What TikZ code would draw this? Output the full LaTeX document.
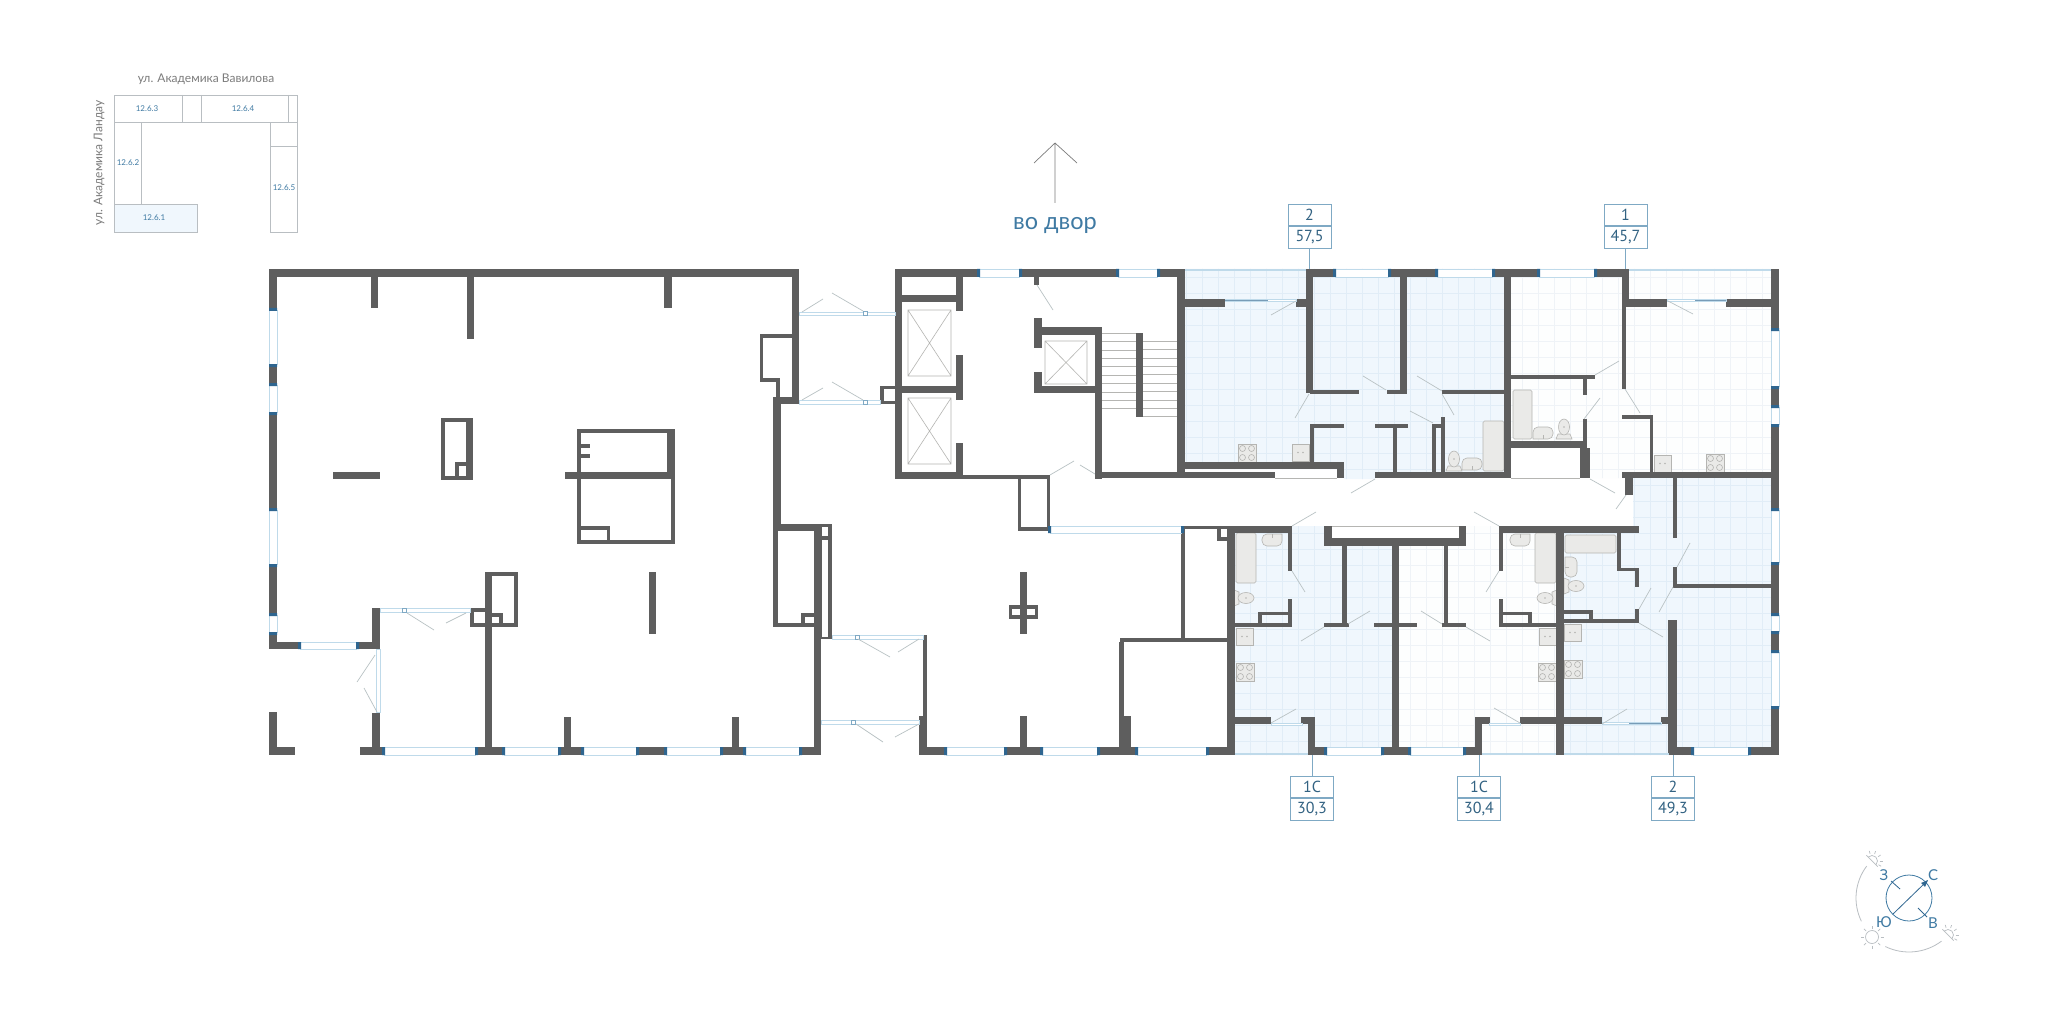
\documentclass[tikz,border=0pt]{standalone}
\usepackage{fontspec}
\setmainfont{Lato}
\newfontfamily\tagfont{PT Sans}
\usetikzlibrary{positioning}
\definecolor{wallc}{HTML}{5E5E5E}
\definecolor{jambc}{HTML}{2F6690}
\definecolor{glassc}{HTML}{BFDAEA}
\definecolor{bluefill}{HTML}{F0F7FD}
\definecolor{bluegrid}{HTML}{E1EDF7}
\definecolor{palefill}{HTML}{FDFEFE}
\definecolor{palegrid}{HTML}{EFF3F7}
\definecolor{doorc}{HTML}{B9C2C4}
\definecolor{fixc}{HTML}{EAEAE8}
\definecolor{fixline}{HTML}{B5B5B2}
\definecolor{inkc}{HTML}{3F7AA3}
\definecolor{tagc}{HTML}{7FA9C4}
\definecolor{streetc}{HTML}{7C7C7C}
\definecolor{keyc}{HTML}{B9BEC2}
\tikzset{
	door/.style={doorc, line width=0.7pt},
	thinline/.style={fixline, line width=0.6pt},
	tagbox/.style={draw=tagc, line width=0.6pt, minimum width=43pt, minimum height=21.5pt, inner sep=0pt, text=inkc!80!black, font=\tagfont\fontsize{16}{16}\selectfont},
	keylabel/.style={text=inkc, font=\fontsize{8}{9}\selectfont},
	streetlabel/.style={text=streetc, font=\fontsize{12}{13}\selectfont},
	sidelabel/.style={text=inkc, font=\fontsize{15}{15}\selectfont}
}
% one room with its tile grid
\newcommand{\flatfill}[3]{
	\begin{scope}
		\clip #3;
		\fill[#1] (1170,260) rectangle (1790,760);
		\foreach \i in {1170,1186,...,1790}
			\draw[#2, line width=0.5pt] (\i,260) -- (\i,760);
		\foreach \i in {261,277,...,760}
			\draw[#2, line width=0.5pt] (1170,\i) -- (1790,\i);
	\end{scope}
}
\newcommand{\stoveat}[2]{
	\draw[thinline, fill=fixc] (#1,#2) rectangle ++(18,18);
	\foreach \i in {4.5,13.5} \foreach \j in {4.5,13.5}
		\draw[fixline, line width=0.6pt] (#1+\i,#2+\j) circle (3);
}
\newcommand{\sinkat}[2]{
	\draw[thinline, fill=fixc] (#1,#2) rectangle ++(17,17);
	\fill[fixline] (#1+6,#2+8.5) circle (0.8) (#1+11,#2+8.5) circle (0.8);
}
\newcommand{\toiletat}[3]{
	\begin{scope}[shift={(#1,#2)}, rotate=#3]
		\draw[thinline, fill=fixc] (-8,10) -- (-6,5) -- (6,5) -- (8,10) -- cycle;
		\draw[thinline, fill=fixc] (0,-2) ellipse (5.5 and 8);
		\fill[fixline] (0,-2) circle (0.9);
	\end{scope}
}
\newcommand{\washat}[3]{
	\begin{scope}[shift={(#1,#2)}, rotate=#3]
		\draw[thinline, fill=fixc, rounded corners=5pt] (-10,6) -- (-10,-6) -- (10,-6) -- (10,6) [sharp corners] -- cycle;
		\draw[fixline, line width=0.5pt] (0,2) -- (0,6);
	\end{scope}
}
\newcommand{\halfsun}[3]{
	\begin{scope}[shift={(#1,#2)}, rotate=#3]
		\draw[keyc, line width=0.7pt] (-8,0) -- (8,0);
		\draw[keyc, line width=0.7pt] (-5.5,0) arc[start angle=180, end angle=360, radius=5.5];
		\foreach \a in {-150,-115,-80,-45,-15}
			\draw[keyc, line width=0.7pt] (\a:7.5) -- (\a:10.5);
	\end{scope}
}

\begin{document}
\begin{tikzpicture}[x=1pt, y=-1pt]
	\useasboundingbox (0,0) rectangle (2048,1024);
	\fill[white] (0,0) rectangle (2048,1024);

	% rooms
	\flatfill{bluefill}{bluegrid}{(1185,269) -- (1504,269) -- (1504,472) -- (1375,472) -- (1375,479) -- (1344,479) -- (1344,469) -- (1185,469) -- cycle}
	\flatfill{palefill}{palegrid}{(1511,269) -- (1771,269) -- (1771,472) -- (1622,472) -- (1622,478) -- (1590,478) -- (1590,448) -- (1511,448) -- cycle}
	\flatfill{bluefill}{bluegrid}{(1235,533) -- (1292,533) -- (1292,526) -- (1324,526) -- (1324,546) -- (1392,546) -- (1392,755) -- (1235,755) -- cycle}
	\flatfill{palefill}{palegrid}{(1399,546) -- (1466,546) -- (1466,526) -- (1499,526) -- (1499,533) -- (1556,533) -- (1556,755) -- (1399,755) -- cycle}
	\flatfill{bluefill}{bluegrid}{(1633,478) -- (1771,478) -- (1771,755) -- (1564,755) -- (1564,533) -- (1633,533) -- cycle}

	% baths and kitchens
	\foreach \xa/\ya/\xb/\yb in {1513/390/1532/439, 1483/421/1504/471, 1236/533/1256/583, 1535/533/1556/583, 1565/535/1616/553}
		\draw[thinline, fill=fixc, rounded corners=1.5pt] (\xa,\ya) rectangle (\xb,\yb);
	\foreach \xa/\ya in {1238/444, 1706/454, 1236/663, 1538/663, 1564/660}{
		\stoveat{\xa}{\ya}
	}
	\foreach \xa/\ya in {1292/444, 1654/455, 1236/628, 1539/628, 1564/624}{
		\sinkat{\xa}{\ya}
	}
	\toiletat{1564}{429}{0}
	\toiletat{1454}{461}{0}
	\toiletat{1244}{598}{-90}
	\toiletat{1547}{598}{90}
	\toiletat{1574}{586}{-90}
	\washat{1543}{433}{0}
	\washat{1472}{464}{0}
	\washat{1272}{540}{180}
	\washat{1520}{540}{180}
	\washat{1571}{567}{-90}

	% walls
	\foreach \xa/\ya/\xb/\yb in {
		269/269/799/277, 269/269/277/649, 371/277/378/308, 467/277/474/339, 664/277/672/308,
		792/269/799/404, 760/334/792/338, 760/334/763/382, 760/378/780/382, 776/378/780/397, 774/397/799/404,
		773/397/781/527, 774/524/832/531, 773/527/778/627, 774/623/816/627, 801/613/816/617, 801/613/805/623,
		814/531/821/755, 821/524/832/639,
		441/418/445/480, 441/418/473/422, 466/418/473/480, 441/476/473/480, 455/462/466/466, 455/462/459/477,
		333/472/380/479,
		577/429/675/433, 577/429/581/544, 667/429/675/472, 565/472/675/479, 671/479/675/544, 577/540/675/544,
		581/526/610/530, 607/526/610/540, 581/444/590/448, 581/454/590/458,
		649/572/656/634,
		485/572/492/755, 485/572/518/576, 514/572/518/627, 470/623/518/627, 470/608/485/612, 470/608/474/627,
		492/613/503/617, 499/613/503/623,
		269/642/380/649, 372/608/380/649, 372/713/380/755, 269/712/277/755,
		269/747/295/755, 360/747/384/755, 476/747/504/755, 559/747/583/755, 637/747/666/755, 721/747/745/755, 800/747/821/755,
		564/717/571/747, 732/717/739/747,
		895/269/1185/277, 895/269/902/479, 895/295/963/302, 956/277/963/311, 956/355/963/400, 895/386/963/393,
		956/443/963/479, 895/472/963/479, 963/475/1050/479,
		880/386/895/389, 880/386/884/404, 880/401/895/404,
		1018/479/1021/531, 1047/479/1050/531, 1018/527/1050/531,
		1095/327/1102/479, 1034/327/1102/335, 1034/318/1042/348, 1034/372/1042/393, 1034/386/1102/393,
		1034/277/1039/285, 1136/333/1143/417, 1095/472/1275/478, 1177/269/1185/478,
		923/635/927/717, 919/716/927/755, 919/747/946/755, 1005/747/1042/755, 1098/747/1137/755, 1207/747/1235/755,
		1020/572/1027/634, 1009/605/1038/619, 1020/716/1027/747,
		1120/638/1227/642, 1119/642/1124/716, 1119/716/1131/755, 1181/527/1185/638, 1181/526/1230/529,
		1217/529/1221/541, 1217/537/1227/541,
		1185/299/1225/307, 1296/299/1307/307, 1306/269/1313/393, 1306/269/1335/277, 1389/269/1437/277, 1493/269/1539/277, 1595/269/1629/277,
		1400/269/1407/393, 1310/390/1359/394, 1387/390/1407/394, 1442/390/1504/394,
		1504/269/1511/478, 1511/375/1595/379, 1583/379/1587/395, 1583/419/1587/441, 1511/441/1587/448, 1580/448/1590/478,
		1622/269/1626/389, 1622/269/1629/307, 1622/299/1667/307, 1726/299/1771/307,
		1771/269/1779/755,
		1310/424/1344/428, 1310/424/1314/467, 1185/462/1344/469, 1337/462/1344/478,
		1375/472/1511/478, 1375/424/1408/428, 1393/428/1397/472, 1432/424/1436/472, 1432/424/1445/428, 1441/417/1445/472,
		1622/472/1779/478, 1650/415/1653/472, 1622/415/1653/419, 1625/478/1633/495, 1673/478/1677/538,
		1227/526/1235/755, 1227/526/1292/533, 1288/526/1292/571, 1288/599/1292/627, 1258/612/1292/615, 1258/612/1262/625, 1235/623/1292/627,
		1235/717/1271/724, 1301/717/1315/724, 1308/717/1315/755, 1308/747/1326/755, 1382/747/1410/755, 1464/747/1482/755,
		1392/538/1399/755, 1324/538/1466/546, 1324/526/1332/546, 1459/526/1466/546,
		1342/546/1347/627, 1324/623/1349/627, 1374/623/1417/627, 1444/546/1448/627, 1442/623/1466/627,
		1499/526/1639/533, 1499/526/1503/571, 1499/599/1503/627, 1499/623/1556/627, 1499/612/1532/615, 1528/612/1532/625,
		1556/526/1564/755, 1617/533/1621/571, 1617/568/1639/571, 1635/568/1639/587, 1635/609/1639/623, 1564/619/1639/623,
		1564/610/1593/614, 1589/610/1593/620,
		1673/567/1677/588, 1673/584/1773/588, 1668/620/1677/755,
		1564/717/1602/724, 1661/717/1669/724, 1520/717/1556/724, 1475/717/1490/724, 1475/717/1482/755,
		1669/747/1693/755, 1749/747/1779/755}
		\fill[wallc] (\xa,\ya) rectangle (\xb,\yb);
	\foreach \xa/\ya/\xb/\yb in {822/527/828/536, 822/540/828/637, 1012/609/1020/615, 1027/609/1035/615}
		\fill[white] (\xa,\ya) rectangle (\xb,\yb);

	% windows
	\foreach \xa/\ya/\xb/\yb in {
		300/642/357/649, 384/747/476/755, 504/747/559/755, 583/747/637/755, 666/747/721/755, 745/747/800/755,
		979/269/1020/277, 1118/269/1158/277, 1050/526/1182/533, 946/747/1005/755, 1042/747/1098/755, 1137/747/1207/755,
		1335/269/1389/277, 1437/269/1493/277, 1539/269/1595/277, 1326/747/1382/755, 1410/747/1464/755, 1693/747/1749/755}{
		\fill[white] (\xa,\ya) rectangle (\xb,\yb);
		\draw[glassc, line width=0.9pt] (\xa,\ya) -- (\xb,\ya) (\xa,\yb) -- (\xb,\yb);
		\fill[jambc] (\xa-2,\ya) rectangle (\xa+1,\yb) (\xb-1,\ya) rectangle (\xb+2,\yb);
	}
	\foreach \xa/\ya/\xb/\yb in {
		269/310/277/365, 269/385/277/413, 269/510/277/565, 269/615/277/633,
		1771/330/1779/387, 1771/407/1779/425, 1771/510/1779/563, 1771/615/1779/632, 1771/652/1779/707}{
		\fill[white] (\xa,\ya) rectangle (\xb,\yb);
		\draw[glassc, line width=0.9pt] (\xa,\ya) -- (\xa,\yb) (\xb,\ya) -- (\xb,\yb);
		\fill[jambc] (\xa,\ya-2) rectangle (\xb,\ya+1) (\xa,\yb-1) rectangle (\xb,\yb+2);
	}
	% balcony glass
	\foreach \xa/\ya/\xb/\yb in {1185/269/1306/271, 1629/269/1771/271, 1235/753/1308/755, 1482/753/1556/755, 1564/753/1669/755}
		\fill[glassc] (\xa,\ya) rectangle (\xb,\yb);
	\foreach \xa/\ya/\xb/\yb in {
		380/608/470/612, 376/649/380/712, 799/312/895/315, 799/400/880/404, 832/635/923/639, 821/720/919/724,
		1225/299/1296/301, 1667/299/1726/301, 1271/723/1302/725, 1489/723/1520/725, 1602/722/1661/724}
		\draw[glassc, fill=white, line width=0.7pt] (\xa,\ya) rectangle (\xb,\yb);
	\foreach \xa/\ya/\xb/\yb in {1225/300/1268/300, 1695/300/1726/300, 1629/723/1661/723}
		\draw[jambc!65, line width=0.7pt] (\xa,\ya) -- (\xb,\yb);
	\foreach \xa/\ya in {402/608, 863/311.5, 863/400, 855/635, 851/720}
		\draw[tagc, fill=white, line width=0.5pt] (\xa,\ya) rectangle ++(4,4);

	% door leaves
	\foreach \xa/\ya/\xb/\yb in {
		407/613/434/630, 466/613/446/623, 375/655/357/682, 377/712/364/688,
		802/312/823/299, 863/311/832/293, 802/400/823/388, 863/400/832/382,
		1037/285/1053/310, 1050/475/1074/461, 1095/474/1080/465,
		858/639/890/657, 919/639/898/652, 856/724/883/742, 919/724/895/737,
		1296/301/1271/315, 1309/394/1295/418, 1386/390/1363/376, 1442/391/1417/376, 1442/394/1454/415, 1433/423/1410/411,
		1595/375/1619/361, 1584/419/1600/398, 1625/389/1640/413, 1668/301/1693/314,
		1375/479/1351/493, 1590/479/1615/493, 1626/495/1616/509,
		1292/526/1316/512, 1292/571/1305/592, 1348/624/1370/611, 1324/627/1301/641,
		1442/624/1421/611, 1466/627/1490/641, 1499/526/1474/512, 1499/571/1486/592,
		1639/609/1651/588, 1639/623/1663/637, 1677/567/1690/543, 1673/587/1659/612,
		1602/724/1627/709, 1271/723/1296/709, 1520/723/1494/708}
		\draw[door] (\xa,\ya) -- (\xb,\yb);

	% lifts
	\foreach \xa/\ya/\xb/\yb in {908/310/951/376, 908/398/951/464, 1045/341/1087/384}
		\draw[thinline] (\xa,\ya) rectangle (\xb,\yb) (\xa,\ya) -- (\xb,\yb) (\xa,\yb) -- (\xb,\ya);
	% stairs
	\foreach \i in {0,...,9}{
		\draw[thinline] (1102,333+8.4*\i) -- (1136,333+8.4*\i);
		\draw[thinline] (1143,341+8.4*\i) -- (1177,341+8.4*\i);
	}
	% thin closing lines
	\draw[thinline] (1332,526) -- (1459,526) (1275,478) -- (1337,478) (1511,478) -- (1580,478);

	% courtyard arrow
	\coordinate (yardtip) at (1055,143);
	\coordinate (yardtail) at (1055,203);
	\coordinate (yardleft) at (1034,163);
	\coordinate (yardright) at (1077,163);
	\draw[streetc, line width=0.7pt] (yardtail) -- (yardtip) (yardleft) -- (yardtip) -- (yardright);
	\node[text=inkc, font=\fontsize{23.5}{24}\selectfont] (yardlabel) at (1055,225) {во двор};

	% tags
	\foreach \nm/\xa/\ya/\top/\bot/\xe in {
		a/1309.5/215/2/{57,5}/1309.5, b/1625.5/215/1/{45,7}/1625.5}{
		\node[tagbox] (\nm top) at (\xa,\ya) {\top};
		\node[tagbox, below=0pt of \nm top] (\nm bot) {\bot};
		\coordinate (\nm wall) at (\xe,269);
		\draw[tagc, line width=0.6pt] (\nm bot.south) -- (\nm wall);
	}
	\foreach \nm/\xa/\ya/\top/\bot in {
		c/1312/787/1С/{30,3}, d/1479/787/1С/{30,4}, e/1673/787/2/{49,3}}{
		\node[tagbox] (\nm top) at (\xa,\ya) {\top};
		\node[tagbox, below=0pt of \nm top] (\nm bot) {\bot};
		\coordinate (\nm wall) at (\xa,755);
		\draw[tagc, line width=0.6pt] (\nm top.north) -- (\nm wall);
	}

	% key plan
	\fill[bluefill] (114,204) rectangle (197,232);
	\draw[keyc, line width=0.7pt] (114,95) rectangle (297,122) (182,95) -- (182,122) (201,95) -- (201,122) (288,95) -- (288,122);
	\draw[keyc, line width=0.7pt] (114,122) rectangle (141,204) (114,204) rectangle (197,232) (270,122) rectangle (297,232) (270,146) -- (297,146);
	\node[streetlabel] (streettop) at (206,79) {ул. Академика Вавилова};
	\node[streetlabel, rotate=90] (streetleft) at (99,163) {ул. Академика Ландау};
	\node[keylabel] (flatthree) at (147,109) {12.6.3};
	\node[keylabel] (flatfour) at (243,109) {12.6.4};
	\node[keylabel] (flattwo) at (128,163) {12.6.2};
	\node[keylabel] (flatone) at (154,218) {12.6.1};
	\node[keylabel] (flatfive) at (284,188) {12.6.5};

	% compass
	\coordinate (cmp) at (1909,898);
	\draw[inkc, line width=0.8pt] (cmp) circle (23);
	\draw[jambc, line width=0.8pt] (1893,914) -- (1927,881) (1891,881) -- (1900,889) (1918,908) -- (1927,917);
	\fill[jambc] (1928,880) -- (1921,883) -- (1925,887) -- cycle;
	\draw[keyc, line width=0.8pt] ([shift={(-143:53)}]cmp) arc[start angle=-143, end angle=-206, radius=53];
	\draw[keyc, line width=0.8pt] ([shift={(-244:54)}]cmp) arc[start angle=-244, end angle=-307, radius=54];
	\node[sidelabel] (west) at (1884,875) {З};
	\node[sidelabel] (north) at (1933,875) {С};
	\node[sidelabel] (south) at (1884,922) {Ю};
	\node[sidelabel] (east) at (1933,923) {В};
	\draw[keyc, line width=0.7pt] (1872,937) circle (6.5);
	\foreach \a in {0,45,...,315}
		\draw[keyc, line width=0.7pt] ([shift={(\a:8.5)}]1872,937) -- ([shift={(\a:11.5)}]1872,937);
	\halfsun{1872}{861}{-45}
	\halfsun{1948}{935}{-45}
\end{tikzpicture}
\end{document}
